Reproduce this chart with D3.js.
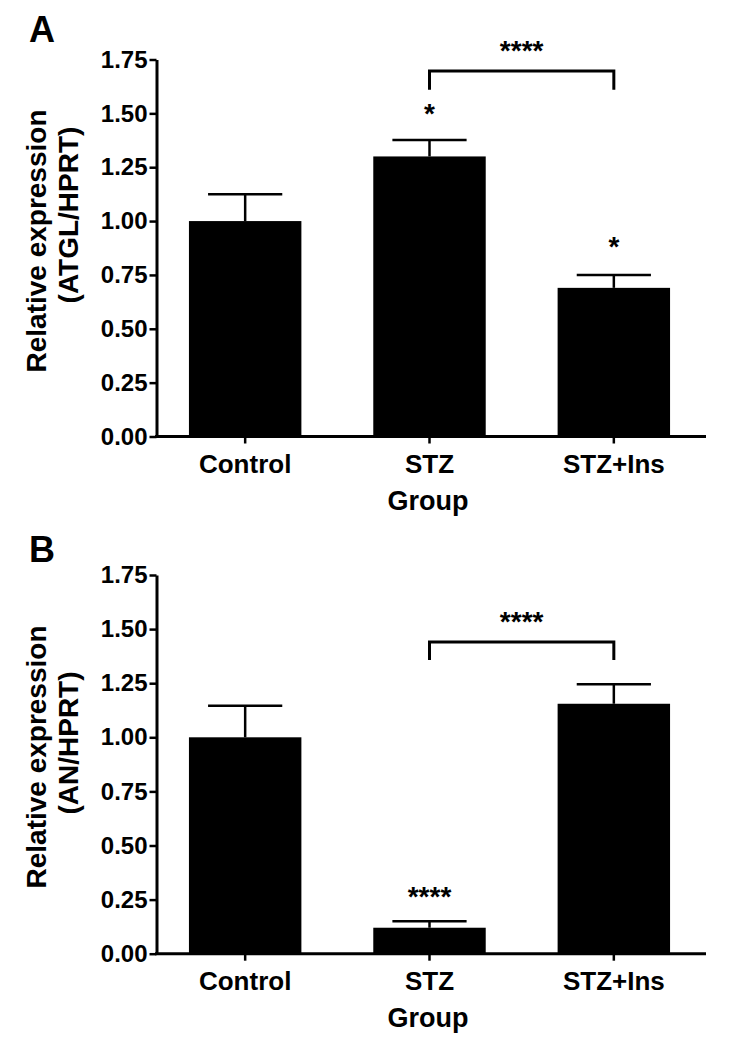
<!DOCTYPE html>
<html>
<head>
<meta charset="utf-8">
<script src="https://cdn.jsdelivr.net/npm/d3@7"></script>
<style>
  html, body { margin: 0; padding: 0; background: #fff; }
  svg { display: block; }
  text { font-family: "Liberation Sans", Arial, sans-serif; font-weight: bold; fill: #000; }
</style>
</head>
<body>
<svg id="chart" width="736" height="1050"></svg>
<script>
// ---- data ----
const categories = ["Control", "STZ", "STZ+Ins"];
const yTicks = [0, 0.25, 0.5, 0.75, 1.0, 1.25, 1.5, 1.75];

const atglMeans  = [1.00, 1.30, 0.69];
const atglErrors = [0.124, 0.076, 0.06];
const atglStars  = ["", "*", "*"];
const atglStarLevels = [null, 1.53, 0.91];
const atglBracket = { from: "STZ", to: "STZ+Ins", label: "****", level: 1.697, foot: 1.61, labelLevel: 1.82 };

const anMeans  = [1.00, 0.12, 1.155];
const anErrors = [0.146, 0.03, 0.09];
const anStars  = ["", "****", ""];
const anStarLevels = [null, 0.295, null];
const anBracket = { from: "STZ", to: "STZ+Ins", label: "****", level: 1.44, foot: 1.357, labelLevel: 1.565 };

const svg = d3.select("#chart");

function drawPanel(o) {
  const g = svg.append("g");
  const x = d3.scaleBand().domain(categories).range([153, 706]).paddingInner(0.39).paddingOuter(0.195);
  const y = d3.scaleLinear().domain([0, 1.75]).range([o.bottom, o.top]);
  const xAxisStart = 156.5, xAxisEnd = 706;

  // bars
  g.selectAll("rect.bar").data(categories).join("rect")
    .attr("x", d => x(d)).attr("width", x.bandwidth())
    .attr("y", (d, i) => y(o.means[i]))
    .attr("height", (d, i) => y(0) - y(o.means[i]))
    .attr("fill", "#000");

  // error bars
  const cap = x.bandwidth() * 0.33;
  categories.forEach((c, i) => {
    const cx = x(c) + x.bandwidth() / 2;
    const top = y(o.means[i] + o.errors[i]);
    g.append("line").attr("x1", cx).attr("x2", cx).attr("y1", y(o.means[i])).attr("y2", top)
      .attr("stroke", "#000").attr("stroke-width", 2.5);
    g.append("line").attr("x1", cx - cap).attr("x2", cx + cap).attr("y1", top).attr("y2", top)
      .attr("stroke", "#000").attr("stroke-width", 2.5);
  });

  // y axis
  const yAxis = d3.axisLeft(y).tickValues(yTicks).tickFormat(d3.format(".2f"))
    .tickSize(7).tickSizeOuter(0).tickPadding(2);
  const ya = g.append("g").attr("transform", `translate(${xAxisStart},0)`).call(yAxis);
  ya.select(".domain").attr("stroke-width", 3).attr("stroke", "#000");
  ya.selectAll(".tick line").attr("stroke-width", 2.5).attr("stroke", "#000");
  ya.selectAll(".tick text").attr("font-size", 24).attr("font-family", "Liberation Sans, Arial, sans-serif")
    .attr("font-weight", "bold").attr("fill", "#000");

  // x axis
  const xAxis = d3.axisBottom(x).tickSize(7).tickSizeOuter(0).tickPadding(9);
  const xa = g.append("g").attr("transform", `translate(0,${o.bottom})`).call(xAxis);
  xa.select(".domain").remove();
  xa.append("line").attr("x1", xAxisStart - 1.5).attr("x2", xAxisEnd).attr("y1", 0).attr("y2", 0)
    .attr("stroke", "#000").attr("stroke-width", 3);
  xa.selectAll(".tick line").attr("stroke-width", 2.5).attr("stroke", "#000");
  xa.selectAll(".tick text").attr("font-size", 26).attr("font-family", "Liberation Sans, Arial, sans-serif")
    .attr("font-weight", "bold").attr("fill", "#000").attr("dy", "0.78em");

  // x title
  g.append("text").attr("x", 428).attr("y", o.bottom + 73).attr("text-anchor", "middle")
    .attr("font-size", 27).text("Group");

  // y title
  const t = g.append("g");
  t.append("text").attr("transform", `translate(46,${o.title1Center}) rotate(-90)`)
    .attr("text-anchor", "middle").attr("font-size", 28).text("Relative expression");
  t.append("text").attr("transform", `translate(78,${o.title2Center}) rotate(-90)`)
    .attr("text-anchor", "middle").attr("font-size", 28).text(o.title2);

  // panel letter
  g.append("text").attr("x", 29).attr("y", o.letterY).attr("font-size", 36).text(o.letter);

  // significance stars over bars
  categories.forEach((c, i) => {
    if (!o.stars[i]) return;
    const cx = x(c) + x.bandwidth() / 2;
    g.append("text").attr("x", cx).attr("y", y(o.starLevels[i]) + 16)
      .attr("text-anchor", "middle").attr("font-size", 28).text(o.stars[i]);
  });

  // bracket
  const b = o.bracket;
  const bx1 = x(b.from) + x.bandwidth() / 2, bx2 = x(b.to) + x.bandwidth() / 2;
  g.append("path")
    .attr("d", `M${bx1},${y(b.foot)} V${y(b.level)} H${bx2} V${y(b.foot)}`)
    .attr("fill", "none").attr("stroke", "#000").attr("stroke-width", 3);
  g.append("text").attr("x", (bx1 + bx2) / 2).attr("y", y(b.labelLevel) + 16)
    .attr("text-anchor", "middle").attr("font-size", 28).text(b.label);
}

drawPanel({ top: 59.5, bottom: 436.5, means: atglMeans, errors: atglErrors, stars: atglStars,
  starLevels: atglStarLevels, bracket: atglBracket, title2: "(ATGL/HPRT)", letter: "A", letterY: 42,
  title1Center: 241, title2Center: 215 });
drawPanel({ top: 575, bottom: 953.7, means: anMeans, errors: anErrors, stars: anStars,
  starLevels: anStarLevels, bracket: anBracket, title2: "(AN/HPRT)", letter: "B", letterY: 562,
  title1Center: 757, title2Center: 743 });
</script>
</body>
</html>
